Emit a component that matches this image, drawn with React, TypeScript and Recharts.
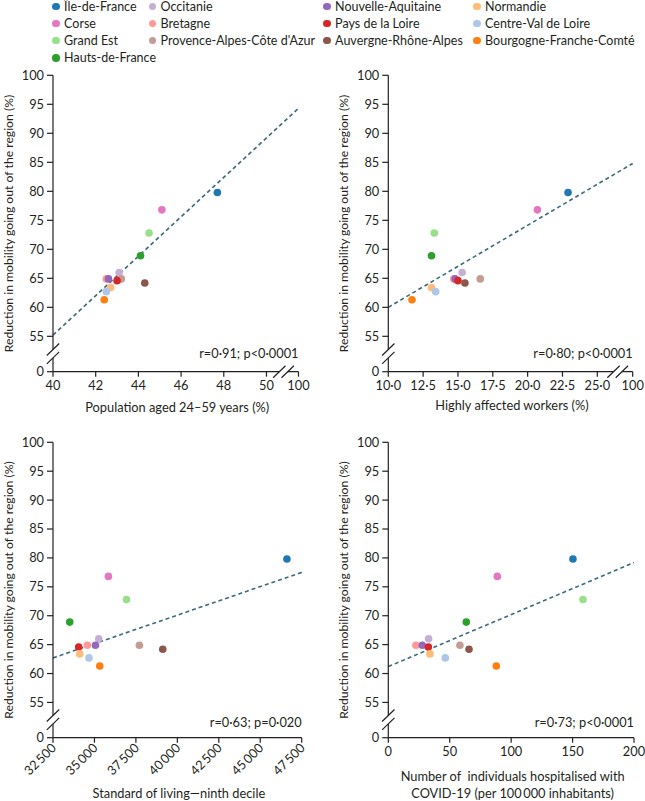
import React from 'react'
import { ScatterChart, Scatter, XAxis, YAxis, Cell, ReferenceLine, Label } from 'recharts'

// regions, in drawing order
const regions = [
  'Île-de-France',
  'Corse',
  'Grand Est',
  'Hauts-de-France',
  'Occitanie',
  'Bretagne',
  "Provence-Alpes-Côte d'Azur",
  'Nouvelle-Aquitaine',
  'Pays de la Loire',
  'Auvergne-Rhône-Alpes',
  'Normandie',
  'Centre-Val de Loire',
  'Bourgogne-Franche-Comté',
]
const regionColors = [
  '#1f77b4', '#e377c2', '#98df8a', '#2ca02c', '#c5b0d5', '#ff9896', '#c49c94',
  '#9467bd', '#d62728', '#8c564b', '#ffbb78', '#aec7e8', '#ff7f0e',
]
const legendOrder = [
  'Île-de-France', 'Occitanie', 'Nouvelle-Aquitaine', 'Normandie',
  'Corse', 'Bretagne', 'Pays de la Loire', 'Centre-Val de Loire',
  'Grand Est', "Provence-Alpes-Côte d'Azur", 'Auvergne-Rhône-Alpes', 'Bourgogne-Franche-Comté',
  'Hauts-de-France',
]

// reduction in mobility going out of the region (%)
const mobilityReduction = [79.8, 76.8, 72.8, 68.9, 66.0, 64.9, 64.9, 64.9, 64.6, 64.2, 63.4, 62.7, 61.3]
// explanatory variables
const populationAged = [47.7, 45.1, 44.5, 44.1, 43.1, 42.5, 43.2, 42.6, 43.0, 44.3, 42.7, 42.5, 42.4]
const affectedWorkers = [22.9, 20.7, 13.3, 13.1, 15.3, 14.7, 16.6, 14.8, 15.0, 15.5, 13.1, 13.4, 11.7]
const livingStandard = [46610, 35840, 36930, 33510, 35260, 34570, 37710, 35060, 34050, 39120, 34110, 34670, 35320]
const hospitalised = [150.3, 88.7, 158.5, 63.5, 32.8, 22.5, 58.3, 27.7, 32.6, 65.7, 33.9, 46.4, 87.9]

// regression lines, [x, y] end points as drawn
const trendPopulation = [[40, 55.2], [51.5, 94.3]]
const trendWorkers = [[10, 60.0], [27.54, 84.8]]
const trendLiving = [[32500, 62.7], [47500, 77.5]]
const trendHospital = [[0, 61.2], [200, 79.2]]

const yTicks = [55, 60, 65, 70, 75, 80, 85, 90, 95, 100]
const popTicks = [40, 42, 44, 46, 48, 50]
const workerTicks = [10, 12.5, 15, 17.5, 20, 22.5, 25]
const livingTicks = [32500, 35000, 37500, 40000, 42500, 45000, 47500]
const hospitalTicks = [0, 50, 100, 150, 200]

// where the broken-axis "0" and "100" ticks sit on the scales
const Y_ZERO_AT = 48.9
const POP_100_AT = 51.5
const WORKERS_100_AT = 27.54

const FONT = 'Lato, "Liberation Sans", sans-serif'
const FS = 12.8
const INK = '#231f20'
const TREND = '#3d6a7a'

const fmtDecimal = (v: number) => v.toFixed(1).replace('.', '\u00b7')
const fmtThousands = (v: number) => String(v).replace(/(\d)(?=\d{3}$)/, '$1\u2009')

type Box = {
  left: number
  top: number
  width: number
  height: number
  plotLeft: number
  plotRight: number
  plotTop: number
  plotBottom: number
}

type PanelProps = {
  xs: number[]
  xTicks: number[]
  xDomain: [number, number]
  xBreak?: number
  formatX: (v: number) => string
  rotateX?: boolean
  xTitle: string[]
  titleDy: number[]
  stat: string
  statDy: number
  trend: number[][]
  box: Box
}

const BreakMark = ({ cx, cy, onY }: { cx: number; cy: number; onY: boolean }) => {
  const dx = 6.2
  const dy = 6
  const h = 4.2
  const a = onY ? { x: 0, y: -h } : { x: -h, y: 0 }
  const b = onY ? { x: 0, y: h } : { x: h, y: 0 }
  const p1 = [cx + a.x - dx, cy + a.y + dy, cx + a.x + dx, cy + a.y - dy]
  const p2 = [cx + b.x - dx, cy + b.y + dy, cx + b.x + dx, cy + b.y - dy]
  return (
    <g>
      <polygon
        points={`${p1[0]},${p1[1]} ${p1[2]},${p1[3]} ${p2[2]},${p2[3]} ${p2[0]},${p2[1]}`}
        fill="#fff"
      />
      <line x1={p1[0]} y1={p1[1]} x2={p1[2]} y2={p1[3]} stroke={INK} strokeWidth={1.2} />
      <line x1={p2[0]} y1={p2[1]} x2={p2[2]} y2={p2[3]} stroke={INK} strokeWidth={1.2} />
    </g>
  )
}

const YTick = (props: any) => {
  const { x, y, payload } = props
  const isBreak = payload.value === Y_ZERO_AT
  return (
    <g>
      <line x1={x - 6} y1={y} x2={x} y2={y} stroke={INK} strokeWidth={1.2} />
      {isBreak && <BreakMark cx={x} cy={y - 18} onY />}
      <text x={x - 9} y={y} dy="0.35em" textAnchor="end" fontSize={FS} fill={INK} fontFamily={FONT}>
        {isBreak ? '0' : payload.value}
      </text>
    </g>
  )
}

const Panel = (p: PanelProps) => {
  const { box } = p
  const data = regions.map((name, i) => ({ name, x: p.xs[i], y: mobilityReduction[i] }))
  const yAxisWidth = box.plotLeft - box.left
  const xAxisHeight = box.top + box.height - box.plotBottom

  const XTick = (props: any) => {
    const { x, y, payload } = props
    const isBreak = p.xBreak !== undefined && payload.value === p.xBreak
    const label = isBreak ? '100' : p.formatX(payload.value)
    return (
      <g>
        <line x1={x} y1={y} x2={x} y2={y + 5} stroke={INK} strokeWidth={1.2} />
        {isBreak && <BreakMark cx={x - 15} cy={y} onY={false} />}
        {p.rotateX ? (
          <text
            x={x + 4}
            y={y + 11}
            textAnchor="end"
            transform={`rotate(-45 ${x + 4} ${y + 11})`}
            fontSize={FS}
            fill={INK}
            fontFamily={FONT}
          >
            {label}
          </text>
        ) : (
          <text x={x} y={y + 17.8} textAnchor="middle" fontSize={FS} fill={INK} fontFamily={FONT}>
            {label}
          </text>
        )}
      </g>
    )
  }

  const xTitle = () => {
    const cx = (box.plotLeft + box.plotRight) / 2 + 1.5 - box.left
    const axisY = box.plotBottom - box.top
    return (
      <g fontFamily={FONT} fill={INK}>
        {p.xTitle.map((t, i) => (
          <text key={i} x={cx} y={axisY + p.titleDy[i]} textAnchor="middle" fontSize={FS} style={{ whiteSpace: 'pre' }}>
            {t}
          </text>
        ))}
        <text x={box.plotRight - box.left} y={axisY + p.statDy} textAnchor="end" fontSize={FS}>
          {p.stat}
        </text>
      </g>
    )
  }

  const yTitle = () => {
    const tx = box.plotLeft - box.left - 40.5
    const ty = (box.plotTop + box.plotBottom) / 2 - box.top
    return (
      <text
        x={tx}
        y={ty}
        textAnchor="middle"
        transform={`rotate(-90 ${tx} ${ty})`}
        fontSize={12.2}
        fill={INK}
        fontFamily={FONT}
      >
        Reduction in mobility going out of the region (%)
      </text>
    )
  }

  const xTicks = p.xBreak !== undefined ? [...p.xTicks, p.xBreak] : p.xTicks

  return (
    <div style={{ position: 'absolute', left: box.left, top: box.top }}>
      <ScatterChart
        width={box.width}
        height={box.height}
        margin={{ top: box.plotTop - box.top, right: box.left + box.width - box.plotRight, bottom: 0, left: 0 }}
      >
        <XAxis
          type="number"
          dataKey="x"
          domain={p.xDomain}
          ticks={xTicks}
          interval={0}
          height={xAxisHeight}
          tickSize={0}
          tickMargin={0}
          tickLine={false}
          axisLine={{ stroke: INK, strokeWidth: 1.2 }}
          tick={<XTick />}
          allowDataOverflow
        >
          <Label content={xTitle} />
        </XAxis>
        <YAxis
          type="number"
          dataKey="y"
          domain={[Y_ZERO_AT, 100]}
          ticks={[Y_ZERO_AT, ...yTicks]}
          interval={0}
          width={yAxisWidth}
          tickSize={0}
          tickMargin={0}
          tickLine={false}
          axisLine={{ stroke: INK, strokeWidth: 1.2 }}
          tick={<YTick />}
          allowDataOverflow
        >
          <Label content={yTitle} />
        </YAxis>
        <ReferenceLine
          segment={[
            { x: p.trend[0][0], y: p.trend[0][1] },
            { x: p.trend[1][0], y: p.trend[1][1] },
          ]}
          stroke={TREND}
          strokeWidth={1.6}
          strokeDasharray="4 3"
          ifOverflow="visible"
        />
        <Scatter
          data={data}
          isAnimationActive={false}
          shape={(s: any) => <circle cx={s.cx} cy={s.cy} r={3.8} fill={s.fill} />}
        >
          {data.map((d, i) => (
            <Cell key={d.name} fill={regionColors[i]} />
          ))}
        </Scatter>
      </ScatterChart>
    </div>
  )
}

const Legend = () => {
  const colLeft = [52, 148.5, 323, 473]
  return (
    <div style={{ position: 'absolute', left: 0, top: 0, fontFamily: FONT, fontSize: 12.5, color: INK }}>
      {legendOrder.map((name, k) => {
        const i = regions.indexOf(name)
        const row = Math.floor(k / 4)
        const col = k % 4
        return (
          <div
            key={name}
            style={{
              position: 'absolute',
              left: colLeft[col],
              top: row * 17.1 - 1.5,
              height: 16,
              display: 'flex',
              alignItems: 'center',
              whiteSpace: 'nowrap',
            }}
          >
            <span
              style={{
                display: 'inline-block',
                width: 7.6,
                height: 7.6,
                borderRadius: '50%',
                background: regionColors[i],
                marginRight: 4.5,
              }}
            />
            {name}
          </div>
        )
      })}
    </div>
  )
}

export default function App() {
  return (
    <div style={{ position: 'absolute', left: 0, top: 0, width: 645, height: 801, background: '#fff' }}>
      <Legend />
      <Panel
        xs={populationAged}
        xTicks={popTicks}
        xDomain={[40, POP_100_AT]}
        xBreak={POP_100_AT}
        formatX={(v) => String(v)}
        xTitle={['Population aged 24\u201359 years (%)']}
        titleDy={[40.5]}
        stat={'r=0\u00b791; p<0\u00b70001'}
        statDy={-14}
        trend={trendPopulation}
        box={{ left: 0, top: 60, width: 320, height: 360, plotLeft: 53, plotRight: 298.5, plotTop: 75.3, plotBottom: 371.7 }}
      />
      <Panel
        xs={affectedWorkers}
        xTicks={workerTicks}
        xDomain={[10, WORKERS_100_AT]}
        xBreak={WORKERS_100_AT}
        formatX={fmtDecimal}
        xTitle={['Highly affected workers (%)']}
        titleDy={[38.5]}
        stat={'r=0\u00b780; p<0\u00b70001'}
        statDy={-14}
        trend={trendWorkers}
        box={{ left: 330, top: 60, width: 315, height: 360, plotLeft: 388.3, plotRight: 632.7, plotTop: 75.3, plotBottom: 371.7 }}
      />
      <Panel
        xs={livingStandard}
        xTicks={livingTicks}
        xDomain={[32500, 47500]}
        formatX={fmtThousands}
        rotateX
        xTitle={['Standard of living\u2014ninth decile']}
        titleDy={[60]}
        stat={'r=0\u00b763; p=0\u00b7020'}
        statDy={-11.2}
        trend={trendLiving}
        box={{ left: 0, top: 425, width: 320, height: 376, plotLeft: 53, plotRight: 301.7, plotTop: 442.3, plotBottom: 737.7 }}
      />
      <Panel
        xs={hospitalised}
        xTicks={hospitalTicks}
        xDomain={[0, 200]}
        formatX={(v) => String(v)}
        xTitle={['Number of  individuals hospitalised with', 'COVID-19 (per 100\u2009000 inhabitants)']}
        titleDy={[43.3, 60.6]}
        stat={'r=0\u00b773; p<0\u00b70001'}
        statDy={-11.2}
        trend={trendHospital}
        box={{ left: 330, top: 425, width: 315, height: 376, plotLeft: 388.3, plotRight: 634, plotTop: 442.3, plotBottom: 737.7 }}
      />
    </div>
  )
}
